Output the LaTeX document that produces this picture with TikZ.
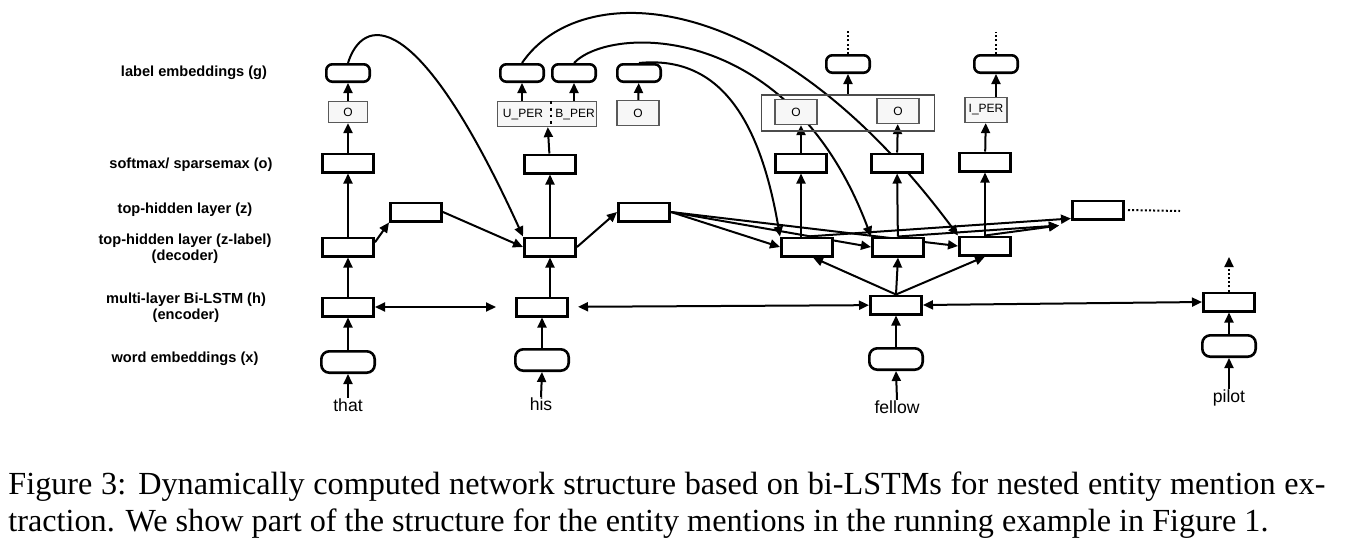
\documentclass[tikz,border=0pt]{standalone}
\usepackage{fontspec}
\setmainfont{Liberation Serif}
\newfontfamily\labelfont{Liberation Sans}
\usetikzlibrary{arrows.meta,backgrounds}

\begin{document}
\begin{tikzpicture}[x=0.5pt, y=-0.5pt,
  box/.style={draw, line width=1.3pt, fill=white, inner sep=0pt, minimum width=25.7pt, minimum height=9.2pt},
  emb/.style={box, rounded corners=3pt, minimum width=21.7pt, minimum height=8.7pt},
  wemb/.style={box, rounded corners=4pt, minimum width=26.7pt, minimum height=10.7pt},
  obox/.style={draw=gray!70!black, line width=0.6pt, fill=gray!6, inner sep=0pt, minimum width=21pt, minimum height=12pt, font=\labelfont\fontsize{6}{7}\selectfont},
  lbl/.style={font=\labelfont\bfseries\fontsize{7.3}{8}\selectfont, align=center, inner sep=0pt},
  word/.style={font=\labelfont\fontsize{8.8}{10}\selectfont, inner sep=0pt, anchor=base},
  capt/.style={font=\fontsize{16.1}{18.5}\selectfont, inner sep=0pt, anchor=base west},
  arr/.style={-{Triangle[length=5pt,width=4.5pt]}, line width=1pt},
  darr/.style={{Triangle[length=5pt,width=4.5pt]}-{Triangle[length=5pt,width=4.5pt]}, line width=1pt},
  dots/.style={dash pattern=on 1pt off 1.1pt, line width=1pt}
]
\useasboundingbox (0,0) rectangle (1362,548);

% Layer names
\node[lbl] (lg) at (194,73) {label embeddings (g)};
\node[lbl] (lo) at (191,165) {softmax/ sparsemax (o)};
\node[lbl] (lz) at (185,210) {top-hidden layer (z)};
\node[lbl] (lzl) at (185,249) {top-hidden layer (z-label)\\(decoder)};
\node[lbl] (lh) at (186,308) {multi-layer Bi-LSTM (h)\\(encoder)};
\node[lbl] (lx) at (185,359) {word embeddings (x)};

% that
\node[emb] (that_g) at (348,73) {};
\node[obox, minimum width=19.5pt, minimum height=10.5pt] (that_o) at (348,112) {O};
\node[box] (that_s) at (348,163) {};
\node[box] (that_d) at (348,247) {};
\node[box] (that_h) at (348,307) {};
\node[wemb] (that_x) at (348,362) {};
\node[word] (that_w) at (348,411) {that};
\node[box] (that_z) at (416,212) {};

% his
\node[emb] (his_gu) at (522,73) {};
\node[emb] (his_gb) at (574,73) {};
\node[obox, minimum width=49.5pt, minimum height=12.5pt] (his_ob) at (547,114) {};
\node[obox, draw=none, fill=none] (his_u) at (523,115) {U\_PER};
\node[obox, draw=none, fill=none] (his_b) at (575,115) {B\_PER};
\node[obox, minimum height=12.5pt] (o3_o) at (638,113) {O};
\node[emb] (o3_g) at (639,73) {};
\node[box] (his_s) at (550,164) {};
\node[box] (his_d) at (550,247) {};
\node[box] (his_h) at (542,307) {};
\node[wemb] (his_x) at (542,360) {};
\node[word] (his_w) at (541,410) {his};
\node[box] (his_z) at (644,212) {};

% fellow
\node[draw=gray!60!black, line width=0.6pt, minimum width=86.5pt, minimum height=18pt, inner sep=0pt] (grp) at (848,113) {};
\node[obox, minimum height=12.5pt] (f1_o) at (796,112) {O};
\node[obox, minimum height=12.5pt] (f2_o) at (898,111) {O};
\node[obox, minimum height=12.5pt] (f3_o) at (986,110) {I\_PER};
\node[emb] (fg) at (848,64) {};
\node[emb] (ig) at (996,64) {};
\coordinate (fg_top) at (848,30);
\coordinate (ig_top) at (996,32);
\node[box] (f1_s) at (801,163) {};
\node[box] (f2_s) at (897,163) {};
\node[box] (f3_s) at (985,162) {};
\node[box] (f1_d) at (807,247) {};
\node[box] (f2_d) at (898,247) {};
\node[box] (f3_d) at (985,246) {};
\node[box] (f_h) at (896,305) {};
\node[wemb] (f_x) at (896,359) {};
\node[word] (f_w) at (897,413) {fellow};
\node[box] (bigz) at (1098,210) {};
\coordinate (bigz_end) at (1180,211);

% pilot
\node[box] (p_h) at (1229,302) {};
\node[wemb] (p_x) at (1229,346) {};
\node[word] (p_w) at (1229,402) {pilot};
\coordinate (p_up) at (1229,257);

%Lines
\begin{scope}[on background layer]
\draw[arr] (that_w.north) -- (that_x.south);
\draw[arr] (that_x) -- (that_h);
\draw[arr] (that_h) -- (that_d);
\draw[arr] (that_d) -- (that_s);
\draw[arr] (that_s) -- (that_o);
\draw[arr] (that_o) -- (that_g);
\draw[arr] (that_d.10) -- (that_z.south west);
\draw[arr] (that_z.east) -- (his_d.west);
\draw[arr] (that_g.north) .. controls (362,18) and (415,0) .. (his_d.north west);

\draw[arr] (his_w.north) -- (his_x.south);
\draw[arr] (his_x) -- (his_h);
\draw[arr] (his_h.north -| his_d.south) -- (his_d.south);
\draw[arr] (his_d) -- (his_s);
\draw[arr] (his_s) -- (his_ob);
\draw[arr] (his_ob.north -| his_gu) -- (his_gu);
\draw[arr] (his_ob.north -| his_gb) -- (his_gb);
\draw[arr] (o3_o) -- (o3_g);
\draw[arr] (his_d.east) -- (his_z.west);
\draw[arr] (his_gu.north) .. controls (580,-22) and (770,-18) .. (f3_d.north west);
\draw[arr] (his_gb.north) .. controls (610,25) and (790,20) .. (f2_d.north west);
\draw[arr] (o3_g.north) .. controls (720,55) and (760,120) .. (f1_d.north west);
\draw[arr] (his_z.east) -- (f1_d.west);
\draw[arr] (his_z.east) -- (f2_d.west);
\draw[arr] (his_z.east) -- (f3_d.west);

\draw[arr] (f_w.north) -- (f_x.south);
\draw[arr] (f_x) -- (f_h);
\draw[arr] (f_h.north) -- ([xshift=3pt]f1_d.south);
\draw[arr] (f_h.north) -- (f2_d.south);
\draw[arr] (f_h.north) -- (f3_d.south);
\draw[arr] (f1_d.north -| f1_s) -- (f1_s);
\draw[arr] (f1_s.north) -- (f1_s.north |- f1_o.south);
\draw[arr] (f2_d) -- (f2_s);
\draw[arr] (f2_s) -- (f2_o);
\draw[arr] (f3_d) -- (f3_s);
\draw[arr] (f3_s) -- (f3_o);
\draw[arr] (grp) -- (fg);
\draw[arr] (f3_o.north -| ig) -- (ig.south);
\draw[dots] (fg.north) -- (fg_top);
\draw[dots] (ig.north) -- (ig_top);
\draw[arr] (f1_d.north) -- ([yshift=1pt]bigz.south west);
\draw[arr] (f2_d.north) -- ([xshift=-6pt,yshift=-2.5pt]bigz.south west);
\draw[arr] (f3_d.north) -- ([xshift=-6pt,yshift=-2.5pt]bigz.south west);
\draw[dots] ([xshift=1.5pt]bigz.east) -- (bigz_end);

\draw[darr, shorten >=9.5pt] (that_h) -- (his_h);
\draw[darr, shorten <=4.5pt] (his_h) -- (f_h);
\draw[darr] (f_h.east) -- (p_h.west);

\draw[arr] (p_w.north) -- (p_x.south);
\draw[arr] (p_x) -- (p_h);
\draw[arr, dots] (p_h.north) -- (p_up);
\end{scope}
\draw[dotted, line width=1.4pt] ([xshift=2pt]his_ob.north) -- ([xshift=2pt]his_ob.south);

% Caption
\node[capt] (cap1) at (8,494) {\makebox[658.5pt][s]{Figure 3: Dynamically computed network structure based on bi-LSTMs for nested entity mention ex-}};
\node[capt] (cap2) at (8,531) {traction. We show part of the structure for the entity mentions in the running example in Figure 1.};
\end{tikzpicture}
\end{document}
